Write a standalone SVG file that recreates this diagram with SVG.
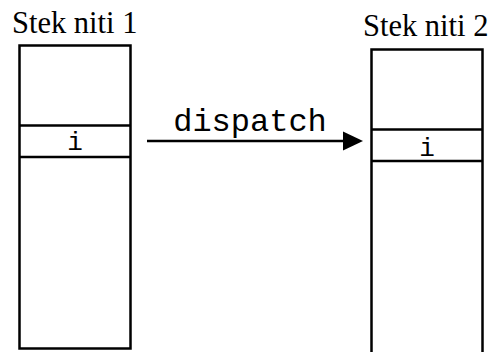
<svg xmlns="http://www.w3.org/2000/svg" width="496" height="352" viewBox="0 0 496 352">
<style>
.box{fill:#fff;stroke:#000;stroke-width:2.5}
.title{font-family:"Liberation Serif",serif;font-size:30.5px;fill:#000}
.mono{font-family:"Liberation Mono",monospace;fill:#000}
</style>
<rect width="496" height="352" fill="#fff"/>
<g id="stack1">
<text class="title" x="12" y="33">Stek niti 1</text>
<rect class="box" x="19.5" y="45.5" width="111" height="303"/>
<line class="box" x1="19.5" y1="125.5" x2="130.5" y2="125.5"/>
<line class="box" x1="19.5" y1="157" x2="130.5" y2="157"/>
<text class="mono" x="75" y="150" font-size="26" text-anchor="middle">i</text>
</g>
<g id="stack2">
<text class="title" x="363" y="36">Stek niti 2</text>
<rect class="box" x="371.5" y="49.5" width="111" height="320"/>
<line class="box" x1="371.5" y1="129.5" x2="482.5" y2="129.5"/>
<line class="box" x1="371.5" y1="161" x2="482.5" y2="161"/>
<text class="mono" x="427" y="156" font-size="26" text-anchor="middle">i</text>
</g>
<g id="connectors">
<line x1="147" y1="141" x2="346" y2="141" stroke="#000" stroke-width="2.5"/>
<path d="M343,131.5 L363,141 L343,150.5 Z" fill="#000"/>
<text class="mono" x="250" y="131" font-size="32" text-anchor="middle">dispatch</text>
</g>
</svg>
